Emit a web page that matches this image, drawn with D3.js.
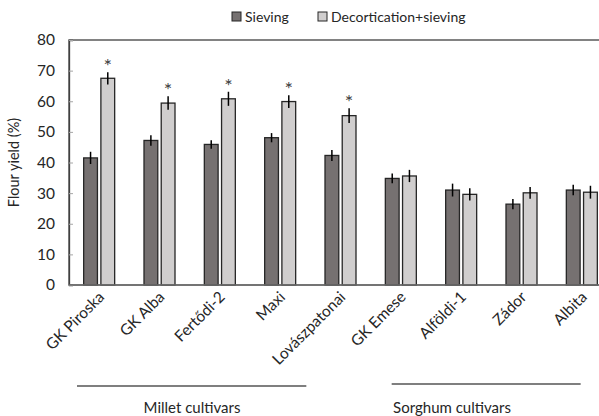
<!DOCTYPE html>
<html>
<head>
<meta charset="utf-8">
<script src="https://cdn.jsdelivr.net/npm/d3@7"></script>
<style>
  body { margin: 0; background: #fff; }
  svg { display: block; font-family: Lato, "Open Sans", sans-serif; }
</style>
</head>
<body>
<svg id="chart" width="599" height="416"></svg>
<script>
const cultivars = ["GK Piroska", "GK Alba", "Fertődi-2", "Maxi", "Lovászpatonai",
  "GK Emese", "Alföldi-1", "Zádor", "Albita"];
const seriesNames = ["Sieving", "Decortication+sieving"];
const sieving = [41.5, 47.2, 45.9, 48.1, 42.3, 34.8, 31.0, 26.4, 31.0];
const sievingErr = [2.0, 1.7, 1.4, 1.5, 1.8, 1.6, 2.1, 1.7, 1.7];
const decort = [67.5, 59.4, 60.8, 59.9, 55.3, 35.6, 29.6, 30.1, 30.3];
const decortErr = [2.0, 2.2, 2.3, 2.1, 2.4, 2.0, 2.0, 1.9, 2.1];
const significant = [true, true, true, true, true, false, false, false, false];
const yTicks = [0, 10, 20, 30, 40, 50, 60, 70, 80];
const groups = [
  { label: "Millet cultivars", from: "GK Piroska", to: "Lovászpatonai" },
  { label: "Sorghum cultivars", from: "GK Emese", to: "Albita" }
];

const colors = ["#767171", "#d0cece"];

const svg = d3.select("#chart");
const mLeft = 69, mTop = 40, mBottom = 285, mRight = 612;

const x = d3.scaleBand().domain(cultivars).range([mLeft, mRight]);
const xSub = d3.scaleBand().domain(seriesNames).range([0, 31]).paddingInner(0.2);
const y = d3.scaleLinear().domain([0, 80]).range([mBottom, mTop]);

// frame
svg.append("rect")
  .attr("x", mLeft).attr("y", mTop)
  .attr("width", mRight - mLeft).attr("height", mBottom - mTop)
  .attr("fill", "none").attr("stroke", "#404040").attr("stroke-width", 1.3);

// y axis
const yAxis = svg.append("g")
  .attr("transform", `translate(${mLeft},0)`)
  .call(d3.axisLeft(y).tickValues(yTicks).tickSize(-4).tickPadding(14));
yAxis.select(".domain").attr("stroke", "#404040").attr("stroke-width", 1.3);
yAxis.selectAll(".tick line").attr("stroke", "#a6a6a6");
yAxis.selectAll(".tick text").attr("font-size", 15.5).attr("fill", "#262626")
  .attr("font-family", "Lato, sans-serif");

svg.append("text")
  .attr("transform", `translate(15,${(mTop + mBottom) / 2}) rotate(-90)`)
  .attr("text-anchor", "middle").attr("dominant-baseline", "middle")
  .attr("font-size", 14.5).attr("fill", "#262626")
  .text("Flour yield (%)");

// bars
const rows = cultivars.map((c, i) => ({
  c, i,
  vals: [
    { s: seriesNames[0], v: sieving[i], e: sievingErr[i], sig: false },
    { s: seriesNames[1], v: decort[i], e: decortErr[i], sig: significant[i] }
  ]
}));

const centerOff = (x.bandwidth() - 31) / 2;
const g = svg.selectAll(".grp").data(rows).enter().append("g")
  .attr("transform", d => `translate(${x(d.c) + centerOff},0)`);

g.selectAll("rect").data(d => d.vals).enter().append("rect")
  .attr("x", d => xSub(d.s))
  .attr("y", d => y(d.v))
  .attr("width", xSub.bandwidth())
  .attr("height", d => y(0) - y(d.v))
  .attr("fill", (d, j) => colors[j])
  .attr("stroke", "#262626").attr("stroke-width", 1.3);

g.selectAll("line.err").data(d => d.vals).enter().append("line")
  .attr("class", "err")
  .attr("x1", d => xSub(d.s) + xSub.bandwidth() / 2)
  .attr("x2", d => xSub(d.s) + xSub.bandwidth() / 2)
  .attr("y1", d => y(d.v + d.e))
  .attr("y2", d => y(d.v - d.e))
  .attr("stroke", "#000").attr("stroke-width", 1.5);

g.selectAll("text.star").data(d => d.vals.filter(v => v.sig)).enter().append("text")
  .attr("class", "star")
  .attr("x", d => xSub(d.s) + xSub.bandwidth() / 2)
  .attr("y", d => y(d.v + d.e) + 1)
  .attr("text-anchor", "middle")
  .attr("font-size", 20).attr("fill", "#404040")
  .text("*");

// x axis line
svg.append("line")
  .attr("x1", mLeft).attr("x2", mRight)
  .attr("y1", mBottom).attr("y2", mBottom)
  .attr("stroke", "#6f6f6f").attr("stroke-width", 1.6);

// x labels
svg.selectAll(".xl").data(cultivars).enter().append("text")
  .attr("class", "xl")
  .attr("transform", d => `translate(${x(d) + x.bandwidth() / 2 + 6},${mBottom + 13}) rotate(-45)`)
  .attr("text-anchor", "end")
  .attr("font-size", 15.5).attr("fill", "#262626")
  .text(d => d);

// group lines under the labels
const lineY = [386, 384];
const lineStart = [8, 21];
const lineEnd = [-4, 29];
groups.forEach((gr, k) => {
  svg.append("line")
    .attr("x1", x(gr.from) + lineStart[k]).attr("x2", x(gr.to) + lineEnd[k])
    .attr("y1", lineY[k]).attr("y2", lineY[k])
    .attr("stroke", "#000").attr("stroke-width", 1.2);
});
svg.append("text").attr("x", 192).attr("y", 413).attr("text-anchor", "middle")
  .attr("font-size", 15).attr("fill", "#262626").text(groups[0].label);
svg.append("text").attr("x", 452).attr("y", 413).attr("text-anchor", "middle")
  .attr("font-size", 15).attr("fill", "#262626").text(groups[1].label);

// legend
const legX = [232, 318];
seriesNames.forEach((s, j) => {
  svg.append("rect")
    .attr("x", legX[j]).attr("y", 12).attr("width", 9).attr("height", 9)
    .attr("fill", colors[j]).attr("stroke", "#262626").attr("stroke-width", 1);
  svg.append("text")
    .attr("x", legX[j] + 13).attr("y", 22)
    .attr("font-size", 14).attr("fill", "#262626")
    .text(s);
});
</script>
</body>
</html>
